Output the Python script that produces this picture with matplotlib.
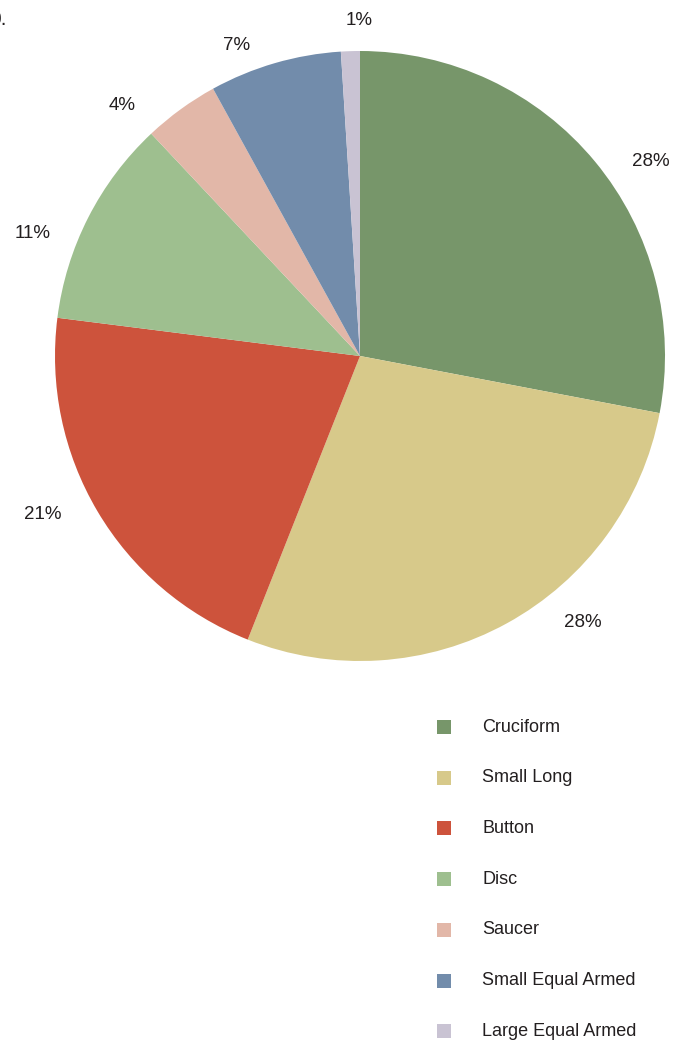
import matplotlib
matplotlib.use("Agg")
import matplotlib.pyplot as plt
import numpy as np

categories = ["Cruciform", "Small Long", "Button", "Disc", "Saucer",
              "Small Equal Armed", "Large Equal Armed"]
values = [28, 28, 21, 11, 4, 7, 1]
colors = ["#77966a", "#d7c98a", "#cd533c", "#9ebf8f", "#e2b7a8",
          "#728cab", "#c9c3d3"]

# label layout (angle in degrees, distance in radii)
label_angles = [33.7, -50.0, 206.6, 159.4, 133.5, 111.6, 90.2]
label_dist = [1.147, 1.139, 1.164, 1.146, 1.134, 1.096, 1.10]

plt.rcParams['font.family'] = ['Liberation Sans', 'DejaVu Sans']
text_color = "#231f20"

W, H = 674, 1046
fig = plt.figure(figsize=(W / 100, H / 100), dpi=100)

cx, cy, r = 360, 356, 305
ax = fig.add_axes([(cx - r) / W, 1 - (cy + r) / H, 2 * r / W, 2 * r / H])
wedges, _ = ax.pie(values, colors=colors, startangle=90, counterclock=False,
                   radius=1.0, wedgeprops=dict(linewidth=0))
ax.set_xlim(-1, 1)
ax.set_ylim(-1, 1)
ax.set_aspect('equal')
ax.axis('off')

for v, a, d in zip(values, label_angles, label_dist):
    ang = np.deg2rad(a)
    ax.text(d * np.cos(ang), d * np.sin(ang), f"{v}%", ha='center', va='center',
            fontsize=13.5, color=text_color, clip_on=False)

# legend
lx_marker, lx_text = 444, 482
y0, dy = 727, 50.7
for i, (c, col) in enumerate(zip(categories, colors)):
    y = y0 + i * dy
    fig.patches.append(plt.Rectangle(((lx_marker - 7) / W, 1 - (y + 7) / H),
                                     14 / W, 14 / H, transform=fig.transFigure,
                                     facecolor=col, edgecolor='none'))
    fig.text(lx_text / W, 1 - y / H, c, ha='left', va='center',
             fontsize=13, color=text_color)

fig.text(-11 / W, 1 - 25 / H, "0.", ha='left', va='baseline', fontsize=15,
         color=text_color)

fig.savefig("out.png", dpi=100)
